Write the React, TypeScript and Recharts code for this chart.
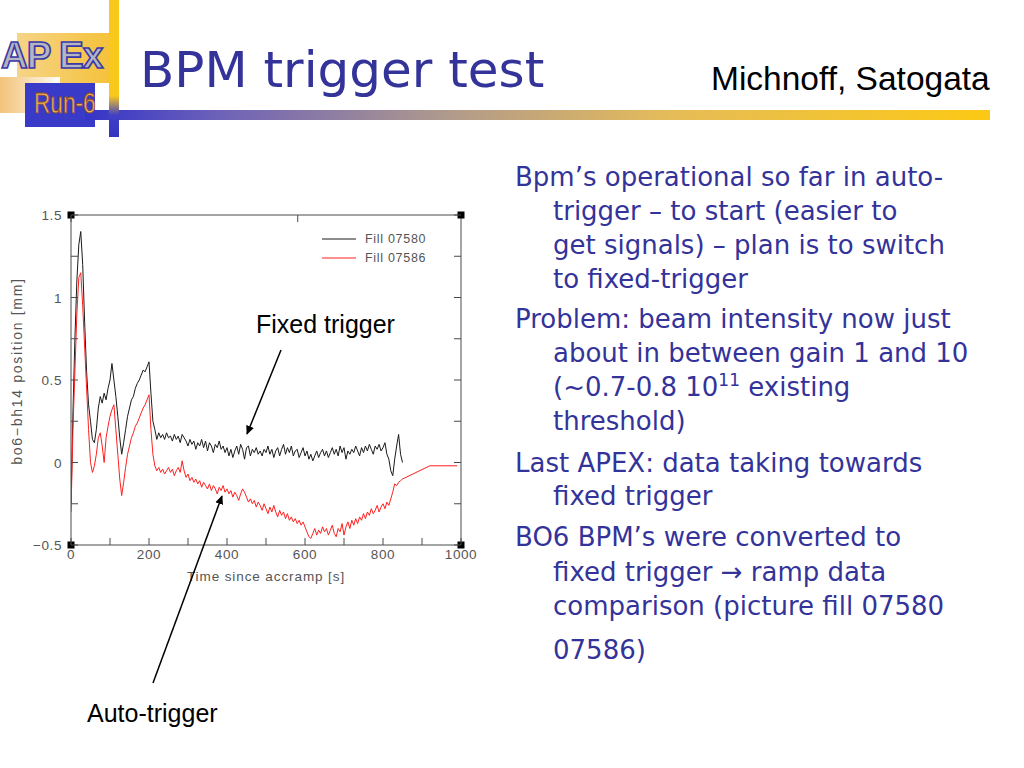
import React from 'react';
import { LineChart, Line, XAxis, YAxis, Legend, ReferenceDot } from 'recharts';

// ---------------- data ----------------
const times = [
  0, 5, 10, 15, 20, 25, 30, 35, 40, 45,
  50, 55, 60, 65, 70, 75, 80, 85, 90, 95,
  100, 105, 110, 115, 120, 125, 130, 135, 140, 145,
  150, 155, 160, 165, 170, 175, 180, 185, 190, 195,
  200, 205, 210, 215, 220, 225, 230, 235, 240, 245,
  250, 255, 260, 265, 270, 275, 280, 285, 290, 295,
  300, 305, 310, 315, 320, 325, 330, 335, 340, 345,
  350, 355, 360, 365, 370, 375, 380, 385, 390, 395,
  400, 405, 410, 415, 420, 425, 430, 435, 440, 445,
  450, 455, 460, 465, 470, 475, 480, 485, 490, 495,
  500, 505, 510, 515, 520, 525, 530, 535, 540, 545,
  550, 555, 560, 565, 570, 575, 580, 585, 590, 595,
  600, 605, 610, 615, 620, 625, 630, 635, 640, 645,
  650, 655, 660, 665, 670, 675, 680, 685, 690, 695,
  700, 705, 710, 715, 720, 725, 730, 735, 740, 745,
  750, 755, 760, 765, 770, 775, 780, 785, 790, 795,
  800, 805, 810, 815, 820, 825, 830, 835, 840, 845,
  850,
];

const fill07580 = [
  -0.25, 0.3, 0.75, 1.1, 1.32, 1.4, 1.2, 0.85, 0.55, 0.35,
  0.25, 0.14, 0.12, 0.2, 0.33, 0.4, 0.36, 0.42, 0.38, 0.45,
  0.5, 0.6, 0.5, 0.4, 0.28, 0.15, 0.05, 0.12, 0.2, 0.28,
  0.33, 0.38, 0.4, 0.45, 0.48, 0.5, 0.53, 0.56, 0.55, 0.58,
  0.61, 0.42, 0.25, 0.2, 0.14, 0.18, 0.15, 0.17, 0.14, 0.18,
  0.15, 0.16, 0.13, 0.17, 0.14, 0.16, 0.12, 0.17, 0.15, 0.13,
  0.1, 0.14, 0.11, 0.13, 0.08, 0.12, 0.1, 0.14, 0.09, 0.13,
  0.07, 0.12, 0.1, 0.06, 0.11, 0.09, 0.13, 0.08, 0.1, 0.06,
  0.09, 0.04, 0.08, 0.03, 0.07, 0.1, 0.05, 0.11, 0.08, 0.02,
  0.09, 0.1, 0.04, 0.08, 0.06, 0.09, 0.05, 0.07, 0.04, 0.08,
  0.06, 0.1, 0.05, 0.08, 0.03, 0.07, 0.09, 0.04, 0.08, 0.11,
  0.05, 0.09, 0.06, 0.1, 0.04, 0.07, 0.08, 0.03, 0.06, 0.09,
  0.04, 0.07, 0.02, 0.05, 0.01, 0.04, 0.07, 0.03, 0.06, 0.08,
  0.04, 0.07, 0.03, 0.06, 0.09, 0.05, 0.08, 0.04, 0.1, 0.06,
  0.09, 0.02, 0.07, 0.05, 0.08, 0.06, 0.1, 0.07, 0.04, 0.09,
  0.06, 0.1, 0.07, 0.11, 0.08, 0.05, 0.1, 0.08, 0.11, 0.07,
  0.09, 0.12, 0.05, 0.02, -0.05, -0.08, 0.02, 0.1, 0.17, 0.05,
  0.0,
];

const fill07586 = [
  -0.3, 0.2, 0.55, 0.9, 1.12, 1.15, 0.95, 0.7, 0.45, 0.2,
  0.0, -0.06, -0.02, 0.05, 0.15, 0.18, 0.1, 0.0, 0.15, 0.22,
  0.28, 0.32, 0.35, 0.2, 0.05, -0.1, -0.2, -0.12, -0.03, 0.05,
  0.1, 0.15, 0.18, 0.22, 0.24, 0.27, 0.3, 0.33, 0.35, 0.38,
  0.41, 0.2, 0.05, -0.02, -0.05, -0.03, -0.06, -0.04, -0.07, -0.05,
  -0.03, -0.06, -0.04, -0.08, -0.05, -0.03, -0.06, 0.01, -0.05, -0.09,
  -0.07, -0.11, -0.09, -0.12, -0.1, -0.13, -0.11, -0.15, -0.12, -0.14,
  -0.16, -0.13, -0.17, -0.14, -0.16, -0.19, -0.15, -0.17, -0.14, -0.18,
  -0.16, -0.19, -0.17, -0.21, -0.18, -0.2, -0.23, -0.19, -0.16, -0.18,
  -0.21, -0.24, -0.22, -0.25, -0.23, -0.27, -0.24, -0.26, -0.29, -0.25,
  -0.28, -0.31, -0.27, -0.3, -0.26, -0.3, -0.33, -0.29, -0.32, -0.3,
  -0.34, -0.31, -0.35, -0.33, -0.36, -0.34, -0.37, -0.35, -0.38, -0.36,
  -0.39, -0.42, -0.45, -0.46, -0.43, -0.4, -0.44, -0.41, -0.43, -0.39,
  -0.42, -0.4, -0.44, -0.41, -0.38, -0.43, -0.45, -0.4, -0.42, -0.37,
  -0.44, -0.39, -0.36, -0.4, -0.35, -0.38, -0.34, -0.37, -0.33, -0.35,
  -0.31, -0.34, -0.3, -0.32, -0.28, -0.31, -0.29, -0.26, -0.3, -0.27,
  -0.25, -0.28, -0.24, -0.26, -0.22, -0.18, -0.13, -0.14, -0.12, -0.11,
  -0.1,
];

const tailTimes = [920, 990];
const tailFill07586 = [-0.02, -0.02];

const xTicks = [0, 100, 200, 300, 400, 500, 600, 700, 800, 900, 1000];
const yTicks = [-0.5, -0.25, 0, 0.25, 0.5, 0.75, 1, 1.25, 1.5];
const seriesNames = ['Fill 07580', 'Fill 07586'];
const seriesColors = ['#1a1a1a', '#ff1f1f'];

type Row = { t: number; a: number | null; b: number | null };
const table: Row[] = times
  .map((t, i) => ({ t, a: fill07580[i], b: fill07586[i] } as Row))
  .concat(tailTimes.map((t, i) => ({ t, a: null, b: tailFill07586[i] } as Row)));

// ---------------- styles ----------------
const AXIS = '#4a4a4a';
const chartFont = '"Liberation Sans", Arial, sans-serif';
const tickText = { fontFamily: chartFont, fontSize: 13.5, fill: '#555', letterSpacing: 0.6 };
const TICK = 7;

const fmtY = (v: number) => (v < 0 ? '\u2212' + Math.abs(v) : String(v));
const isMajorY = (v: number) => Math.abs(v * 2 - Math.round(v * 2)) < 1e-9;

const BottomTick = (p: any) => {
  const v = p.payload.value;
  return (
    <g>
      <line x1={p.x} x2={p.x} y1={p.y} y2={p.y - TICK} stroke={AXIS} />
      {v % 200 === 0 ? (
        <text x={p.x} y={p.y + 14} textAnchor="middle" {...tickText}>{v}</text>
      ) : null}
    </g>
  );
};
const TopTick = (p: any) => (
  <line x1={p.x} x2={p.x} y1={p.y} y2={p.y + TICK} stroke={AXIS} />
);
const LeftTick = (p: any) => {
  const v = p.payload.value;
  return (
    <g>
      <line x1={p.x} x2={p.x + TICK} y1={p.y} y2={p.y} stroke={AXIS} />
      {isMajorY(v) ? (
        <text x={p.x - 9} y={p.y + 5} textAnchor="end" {...tickText}>{fmtY(v)}</text>
      ) : null}
    </g>
  );
};
const RightTick = (p: any) => (
  <line x1={p.x} x2={p.x - TICK} y1={p.y} y2={p.y} stroke={AXIS} />
);

const CornerSquare = (p: any) => (
  <rect x={p.cx - 3.5} y={p.cy - 3.5} width={7} height={7} fill="#000" />
);

const renderLegend = (props: any) => {
  const payload = props.payload || [];
  return (
    <div>
      {payload.map((e: any) => (
        <div key={e.value} style={{ display: 'flex', alignItems: 'center', height: 19 }}>
          <svg width={36} height={4} style={{ display: 'block' }}>
            <line x1={0} x2={34} y1={2} y2={2} stroke={e.color} strokeWidth={1} />
          </svg>
          <span style={{ marginLeft: 7, fontFamily: chartFont, fontSize: 12.5, color: '#555', letterSpacing: 0.7 }}>
            {e.value}
          </span>
        </div>
      ))}
    </div>
  );
};

const YLabel = (p: any) => {
  const vb = p.viewBox || { x: 70, y: 215, width: 1, height: 330 };
  const right = vb.x + vb.width;
  return (
    <text
      transform={`translate(${right - 54}, ${vb.y + vb.height / 2 - 9}) rotate(-90)`}
      textAnchor="middle"
      dominantBaseline="central"
      fontFamily={chartFont}
      fontSize={14}
      fill="#555"
      letterSpacing={1.7}
    >
      bo6{'\u2212'}bh14 position [mm]
    </text>
  );
};

// ---------------- slide text ----------------
const BLUE = '#33339a';
const bodyFont = '"DejaVu Sans", sans-serif';
const bodyLines: { x: number; y: number; text: React.ReactNode }[] = [
  { x: 515, y: 186, text: 'Bpm\u2019s operational so far in auto-' },
  { x: 553, y: 220, text: 'trigger \u2013 to start (easier to' },
  { x: 553, y: 254, text: 'get signals) \u2013 plan is to switch' },
  { x: 553, y: 288, text: 'to fixed-trigger' },
  { x: 515, y: 328, text: 'Problem: beam intensity now just' },
  { x: 553, y: 362, text: 'about in between gain 1 and 10' },
  {
    x: 553,
    y: 396,
    text: (
      <>
        (~0.7-0.8 10
        <tspan dy={-10} fontSize={17}>11</tspan>
        <tspan dy={10}> existing</tspan>
      </>
    ),
  },
  { x: 553, y: 430, text: 'threshold)' },
  { x: 515, y: 472, text: 'Last APEX: data taking towards' },
  { x: 553, y: 505, text: 'fixed trigger' },
  { x: 515, y: 546, text: 'BO6 BPM\u2019s were converted to' },
  { x: 553, y: 581, text: 'fixed trigger \u2192 ramp data' },
  { x: 553, y: 615, text: 'comparison (picture fill 07580' },
  { x: 553, y: 659, text: '07586)' },
];

const Logo = () => (
  <>
    <div style={{ position: 'absolute', left: 17, top: 33, width: 93, height: 50, background: 'linear-gradient(90deg, #f6d488 0%, #f5c23a 100%)' }} />
    <div style={{ position: 'absolute', left: 0, top: 77, width: 60, height: 36, background: 'linear-gradient(90deg, #f2c37a 0%, #fbe9cc 70%, #ffffff 100%)' }} />
    <div style={{ position: 'absolute', left: 25, top: 83, width: 70, height: 44, background: '#3a3ac8' }} />
    <div style={{ position: 'absolute', left: 85, top: 110, width: 905, height: 10, background: 'linear-gradient(90deg, #3434c8 0%, #6e62b8 15%, #b09a8c 40%, #e6bc58 65%, #fbc914 100%)' }} />
    <div style={{ position: 'absolute', left: 109, top: 0, width: 10, height: 137, background: 'linear-gradient(180deg, #f8c81c 0%, #f8c81c 70%, #4040c4 84%, #3434c0 100%)' }} />
    <div
      style={{
        position: 'absolute', left: 1, top: 36, fontFamily: '"Liberation Sans", Arial, sans-serif', fontWeight: 700,
        fontSize: 37, lineHeight: '40px', color: '#b4b4c2', WebkitTextStroke: '1.6px #3a3aa6', letterSpacing: -1, whiteSpace: 'nowrap',
      }}
    >
      AP Ex
    </div>
    <div
      style={{
        position: 'absolute', left: 34, top: 86, fontFamily: '"Liberation Sans", Arial, sans-serif', fontSize: 29,
        lineHeight: '34px', color: '#f6b45c', WebkitTextStroke: '0.8px #8a4a20', transform: 'scaleX(0.78)',
        transformOrigin: 'left top', whiteSpace: 'nowrap',
      }}
    >
      Run-6
    </div>
  </>
);

export default function App() {
  return (
    <div style={{ position: 'absolute', left: 0, top: 0, width: 1024, height: 768, background: '#fff', overflow: 'hidden' }}>
      <Logo />
      <div style={{ position: 'absolute', left: 0, top: 190 }}>
        <LineChart width={480} height={410} data={table} margin={{ top: 24, right: 18, bottom: 54, left: 70 }}>
          <XAxis
            dataKey="t"
            type="number"
            domain={[0, 1000]}
            allowDataOverflow
            ticks={xTicks}
            interval={0}
            height={1}
            tickSize={0}
            tickMargin={0}
            tickLine={false}
            axisLine={{ stroke: AXIS }}
            tick={(p: any) => <BottomTick {...p} />}
            label={{
              value: 'Time since accramp [s]',
              position: 'bottom',
              offset: 25,
              style: { fontFamily: chartFont, fontSize: 13.5, fill: '#555', letterSpacing: 0.9 },
            }}
          />
          <XAxis
            xAxisId="top"
            orientation="top"
            type="number"
            domain={[0, 1000]}
            allowDataOverflow
            ticks={xTicks}
            interval={0}
            height={1}
            tickSize={0}
            tickMargin={0}
            tickLine={false}
            axisLine={{ stroke: AXIS }}
            tick={(p: any) => <TopTick {...p} />}
          />
          <YAxis
            type="number"
            domain={[-0.5, 1.5]}
            allowDataOverflow
            ticks={yTicks}
            interval={0}
            width={1}
            tickSize={0}
            tickMargin={0}
            tickLine={false}
            axisLine={{ stroke: AXIS }}
            tick={(p: any) => <LeftTick {...p} />}
            label={{ content: (p: any) => <YLabel {...p} /> }}
          />
          <YAxis
            yAxisId="right"
            orientation="right"
            type="number"
            domain={[-0.5, 1.5]}
            allowDataOverflow
            ticks={yTicks}
            interval={0}
            width={1}
            tickSize={0}
            tickMargin={0}
            tickLine={false}
            axisLine={{ stroke: AXIS }}
            tick={(p: any) => <RightTick {...p} />}
          />
          <Legend
            layout="vertical"
            align="center"
            verticalAlign="middle"
            content={renderLegend}
            wrapperStyle={{ left: 322, top: 39, width: 130, height: 40 }}
          />
          <Line
            name={seriesNames[0]}
            dataKey="a"
            type="linear"
            stroke={seriesColors[0]}
            strokeWidth={1}
            dot={false}
            activeDot={false}
            isAnimationActive={false}
          />
          <Line
            name={seriesNames[1]}
            dataKey="b"
            type="linear"
            stroke={seriesColors[1]}
            strokeWidth={1}
            dot={false}
            activeDot={false}
            isAnimationActive={false}
          />
          <ReferenceDot x={0} y={1.5} ifOverflow="visible" shape={CornerSquare} />
          <ReferenceDot x={1000} y={1.5} ifOverflow="visible" shape={CornerSquare} />
          <ReferenceDot x={0} y={-0.5} ifOverflow="visible" shape={CornerSquare} />
          <ReferenceDot x={1000} y={-0.5} ifOverflow="visible" shape={CornerSquare} />
        </LineChart>
      </div>
      <svg width={1024} height={768} style={{ position: 'absolute', left: 0, top: 0, pointerEvents: 'none' }}>
        <defs>
          <marker id="ah" viewBox="0 0 10 10" refX="9" refY="5" markerWidth="9" markerHeight="9" orient="auto-start-reverse" markerUnits="userSpaceOnUse">
            <path d="M0,0.5 L10,5 L0,9.5 z" fill="#000" />
          </marker>
        </defs>
        <text x={140} y={87} fontFamily={bodyFont} fontSize={50} fill={BLUE}>BPM trigger test</text>
        <text x={711} y={90} fontFamily={chartFont} fontSize={33.5} fill="#000">Michnoff, Satogata</text>
        {bodyLines.map((l, i) => (
          <text key={i} x={l.x} y={l.y} fontFamily={bodyFont} fontSize={26} fill={BLUE}>{l.text}</text>
        ))}
        <text x={256} y={333} fontFamily={chartFont} fontSize={25} fill="#000">Fixed trigger</text>
        <text x={87} y={722} fontFamily={chartFont} fontSize={25} fill="#000">Auto-trigger</text>
        <line x1={281} y1={350} x2={247} y2={434} stroke="#000" strokeWidth={1.5} markerEnd="url(#ah)" />
        <line x1={153} y1={683} x2={222} y2={496} stroke="#000" strokeWidth={1.5} markerEnd="url(#ah)" />
      </svg>
    </div>
  );
}
